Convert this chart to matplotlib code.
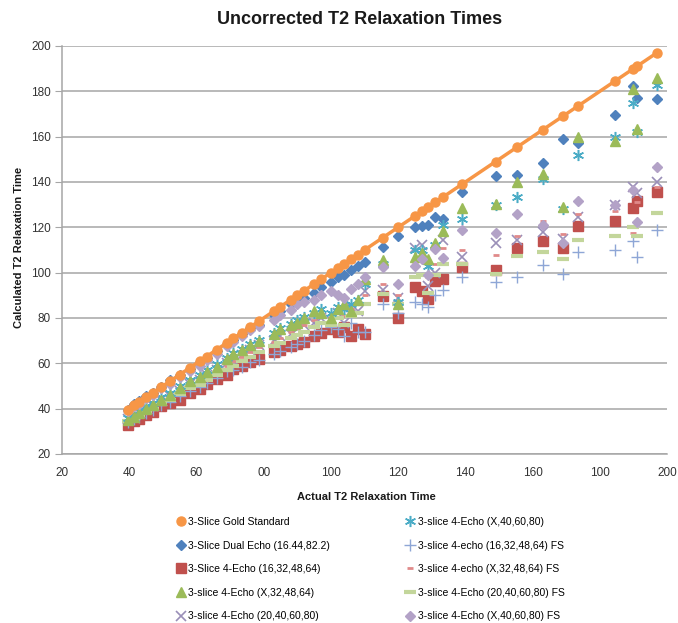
import matplotlib
matplotlib.use("Agg")
import matplotlib.pyplot as plt

plt.rcParams['font.family'] = ['Liberation Sans Narrow', 'Liberation Sans', 'DejaVu Sans']

# actual T2 (x) for every phantom sample
actual = [39.5, 41.5, 43, 45, 47, 49.5, 52, 55, 58, 61, 63, 66, 69, 71, 73.5, 76, 78.5,
          83, 85, 88, 90, 92, 95, 97, 100, 102, 104, 106, 108, 110, 115.5, 120, 125,
          127, 129, 131, 133.5, 139, 149, 155.5, 163, 169, 173.5, 184.5, 190, 191, 197]

gold = [39.5, 41.5, 43, 45, 47, 49.5, 52, 55, 58, 61, 63, 66, 69, 71, 73.5, 76, 78.5,
        83, 85, 88, 90, 92, 95, 97, 100, 102, 104, 106, 108, 110, 115.5, 120, 125,
        127, 129, 131, 133.5, 139, 149, 155.5, 163, 169, 173.5, 184.5, 190, 191, 197]

dual_echo = [39.5, 42, 43.5, 45.5, 47, 49.5, 52.5, 55, 57.5, 60.5, 62.5, 65.5, 68.5, 70.5, 73, 75.5, 77,
             81.5, 83, 86, 87.5, 89, 91, 93.5, 96, 98, 99, 101, 103, 104.5, 111.5, 116, 120,
             120.5, 121, 124.5, 123.5, 135.5, 142.5, 143, 148.5, 159, 157, 169.5, 182.5, 177, 176.5]

echo4_16 = [33, 34.5, 35.5, 37, 38.5, 41, 42.5, 44, 47, 48.5, 51, 53, 55, 57.5, 59, 60.5, 62,
            65, 66, 67.5, 68.5, 69.5, 72, 73.5, 75, 74, 76, 72, 75, 73, 89.5, 80, 93.5,
            92, 88.5, 96.5, 97, 102.5, 101, 111, 114, 111, 120.5, 123, 128.5, 131.5, 135.5]

echo4_x32 = [35, 36.5, 38, 40, 41.5, 44, 46, 49, 52, 54, 56, 58.5, 62, 64, 66, 68, 70,
             73, 75, 77, 78, 80, 83, 82, 80, 84, 86, 83, 88, 97, 105.5, 86, 107,
             108.5, 106, 113, 118.5, 128.5, 130.5, 140, 143.5, 129, 160, 158, 181, 163.5, 186]

echo4_20 = [35.5, 37, 38.5, 40, 41, 44, 45.5, 48, 51, 52.5, 55, 57, 60, 61.5, 63.5, 66, 68,
            70, 72, 73, 75, 77, 78, 80, 79, 82, 78, 85, 83, 92, 92.5, 89, 111,
            112, 94, 100, 114.5, 107, 113, 114.5, 118, 115, 124.5, 130, 138, 135, 140]

echo4_x40 = [36, 37.5, 39, 41, 42.5, 45, 47, 50, 52.5, 55, 57, 59.5, 62.5, 64.5, 66.5, 68.5, 70.5,
             73.5, 75.5, 77.5, 79, 80.5, 82, 84, 82, 85, 84, 86, 88, 95, 104, 87, 110,
             110, 103, 112, 121, 123.5, 130, 133.5, 141.5, 128, 152, 160, 175, 162, 183]

echo4_16_fs = [34, 35.5, 36.5, 38, 39.5, 41.5, 43, 45.5, 48, 49.5, 51.5, 53.5, 56.5, 57, 58.5, 60.5, 61.5,
               64, 65.5, 67, 68.5, 70, 72.5, 74.5, 76, 75, 72, 78, 74, 74, 86, 82, 87,
               86, 85, 90, 92.5, 98, 96, 98, 103.5, 99.5, 109, 110, 114, 107, 119]

echo4_x32_fs = [35, 36.5, 38, 39.5, 41, 43, 45, 48, 50.5, 52, 54, 56.5, 59, 61, 63, 65, 67,
                69.5, 71, 74, 75.5, 77, 79, 81, 80, 83, 81, 84, 86, 90, 95, 90, 104,
                106, 98, 104, 111, 110, 108, 116, 123, 117, 126, 127, 117.5, 131, 138]

echo4_20_fs = [34.5, 36, 37, 38.5, 40, 42, 44, 46.5, 49, 50.5, 52.5, 55, 57, 59, 61, 63, 65,
               67.5, 69, 71, 72.5, 74, 76, 78, 77, 80, 77, 81, 82, 86, 90.5, 86, 98,
               99, 91, 99, 104, 104, 99.5, 107.5, 109, 106, 114.5, 116, 120, 116, 126.5]

echo4_x40_fs = [39, 41, 42, 44.5, 46, 49, 51, 54, 56.5, 59, 61.5, 64, 67.5, 69.5, 72, 74.5, 76.5,
                79, 81.5, 83.5, 86, 87, 88, 90, 92, 90, 89, 93, 95, 98, 102.5, 95, 103,
                106, 99, 110.5, 106.5, 119, 117.5, 126, 121, 113, 131.5, 130, 136.5, 122.5, 146.5]

yticks = [20, 40, 60, 80, 100, 120, 140, 160, 180, 200]
xticks = [20, 40, 60, 80, 100, 120, 140, 160, 180, 200]
# tick text as printed on the original figure
xtick_text = ['20', '40', '60', '00', '100', '120', '140', '160', '100', '200']

fig = plt.figure(figsize=(6.78, 6.23), dpi=100)
ax = fig.add_axes([62 / 678, 1 - 454 / 623, 605 / 678, 408 / 623])

grid_c = '#a6a6a6'
ax.set_xlim(20, 200)
ax.set_ylim(20, 200)
ax.set_yticks(yticks)
ax.set_xticks(xticks)
ax.set_xticklabels(xtick_text)
ax.yaxis.grid(True, color=grid_c, lw=1.1)
ax.set_axisbelow(True)
for s in ['top', 'right']:
    ax.spines[s].set_visible(False)
for s in ['left', 'bottom']:
    ax.spines[s].set_color(grid_c)
    ax.spines[s].set_linewidth(1.1)
ax.tick_params(axis='y', length=5, color=grid_c, labelsize=8.5, pad=3)
ax.tick_params(axis='x', length=0, labelsize=8.5, pad=9)
for t in ax.get_yticklabels() + ax.get_xticklabels():
    t.set_color('#333333')

# gold standard: line drawn on its own, dots carry the legend entry
ax.plot(actual, gold, '-', color='#f79646', lw=2.5, zorder=20)
ax.plot(actual, gold, 'o', color='#f79646', ms=6.5, ls='none', zorder=21,
        label='3-Slice Gold Standard')
ax.plot(actual, dual_echo, 'D', color='#4f81bd', ms=5, ls='none', zorder=5,
        label='3-Slice Dual Echo (16.44,82.2)')
ax.plot(actual, echo4_16, 's', color='#c0504d', ms=6.5, ls='none', zorder=3,
        label='3-Slice 4-Echo (16,32,48,64)')
ax.plot(actual, echo4_x32, '^', color='#9bbb59', ms=6.5, ls='none', zorder=6,
        label='3-slice 4-Echo (X,32,48,64)')
ax.plot(actual, echo4_20, 'x', color='#9a8fb8', ms=7, mew=1.2, ls='none', zorder=4,
        label='3-slice 4-Echo (20,40,60,80)')
ax.plot(actual, echo4_x40, marker=(6, 2, 0), color='#4bacc6', ms=8, mew=1.1, ls='none', zorder=5,
        label='3-slice 4-Echo (X,40,60,80)')
ax.plot(actual, echo4_16_fs, '+', color='#8ea6d6', ms=8, mew=1.0, ls='none', zorder=4,
        label='3-slice 4-echo (16,32,48,64) FS')
ax.plot(actual, echo4_x32_fs, '_', color='#e08a8a', ms=5, mew=2.0, ls='none', zorder=4,
        label='3-slice 4-echo (X,32,48,64) FS')
ax.plot(actual, echo4_20_fs, '_', color='#c3d69b', ms=8, mew=3.0, ls='none', zorder=4,
        label='3-slice 4-Echo (20,40,60,80) FS')
ax.plot(actual, echo4_x40_fs, 'D', color='#b3a2c7', ms=5.5, ls='none', zorder=7,
        label='3-slice 4-Echo (X,40,60,80) FS')

fig.text(360 / 678, 1 - 20 / 623, 'Uncorrected T2 Relaxation Times', ha='center', va='center',
         fontsize=13, fontweight='bold', color='#1a1a1a')
fig.text(366 / 678, 1 - 497 / 623, 'Actual T2 Relaxation Time', ha='center', va='center',
         fontsize=8, fontweight='bold', color='#1a1a1a')
fig.text(19 / 678, 1 - 247 / 623, 'Calculated T2 Relaxation Time', ha='center', va='center',
         rotation=90, fontsize=8, fontweight='bold', color='#1a1a1a')

fig.legend(loc='upper left', bbox_to_anchor=(176 / 678, 1 - 517 / 623), ncol=2, frameon=False,
           fontsize=7.5, labelspacing=1.3, columnspacing=7.2, handlelength=0.9,
           handletextpad=0.3, borderaxespad=0, borderpad=0)

fig.savefig('out.png', dpi=100)
